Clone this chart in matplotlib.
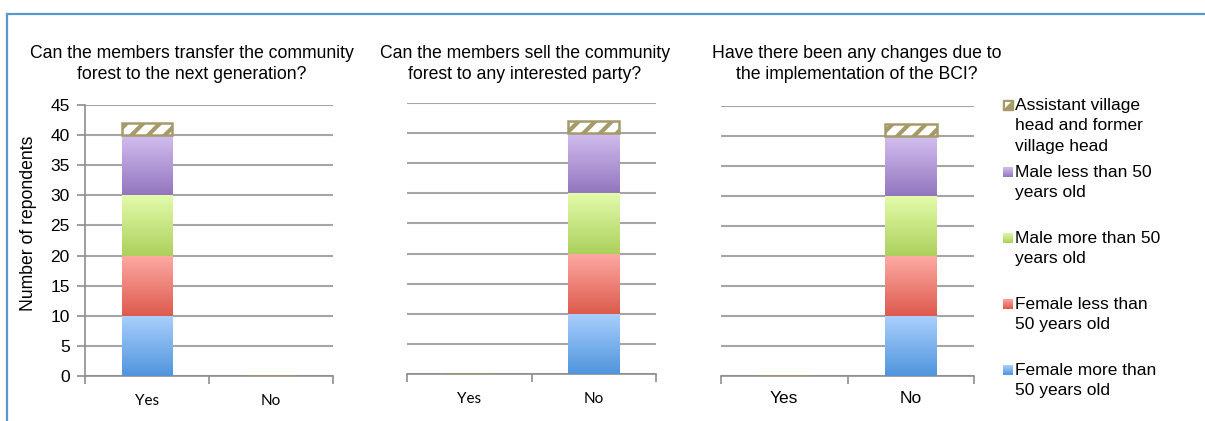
import numpy as np
import matplotlib
matplotlib.use("Agg")
import matplotlib.pyplot as plt
from matplotlib.colors import LinearSegmentedColormap
from matplotlib.patches import Rectangle

plt.rcParams["font.family"] = ["Liberation Sans", "DejaVu Sans"]
plt.rcParams["hatch.linewidth"] = 3.0

# ---- data ----
questions = [
    "Can the members transfer the community\nforest to the next generation?",
    "Can the members sell the community\nforest to any interested party?",
    "Have there been any changes due to\nthe implementation of the BCI?",
]
answers = ["Yes", "No"]
series_names = [
    "Female more than\n50 years old",
    "Female less than\n50 years old",
    "Male more than 50\nyears old",
    "Male less than 50\nyears old",
    "Assistant village\nhead and former\nvillage head",
]
# counts[question] = (Yes, No)
female_over50 = [[10, 0], [0, 10], [0, 10]]
female_under50 = [[10, 0], [0, 10], [0, 10]]
male_over50 = [[10, 0], [0, 10], [0, 10]]
male_under50 = [[10, 0], [0, 10], [0, 10]]
assistant_heads = [[2, 0], [0, 2], [0, 2]]
yticks = [0, 5, 10, 15, 20, 25, 30, 35, 40, 45]

series_values = [female_over50, female_under50, male_over50, male_under50, assistant_heads]

# gradient (top colour, bottom colour) for each solid series
gradients = [
    ("#aad0fd", "#5094dc"),
    ("#fdaaa4", "#dd5a4d"),
    ("#e3fbab", "#acd05c"),
    ("#d3bff0", "#9276be"),
]
hatch_color = "#a59a69"
grid_color = "#a5a5a5"
axis_color = "#8e8e8e"

W, H = 1205, 421
fig = plt.figure(figsize=(W / 100, H / 100), dpi=100)

# outer chart frame (top and left edges visible)
fig.add_artist(plt.Line2D([7 / W, 7 / W], [0, 1 - 14 / H], color="#5b97cf", lw=1.6))
fig.add_artist(plt.Line2D([7 / W, 1], [1 - 14 / H, 1 - 14 / H], color="#5b97cf", lw=1.6))

panels = [
    # left, right, y0 (px from top), y45 (px from top)
    (85, 333, 376, 105),
    (407, 656, 374, 103),
    (721, 974, 376, 106),
]
title_centers = [192, 525, 857]


def gradient_bar(ax, rect, top, bottom):
    cmap = LinearSegmentedColormap.from_list("g", [bottom, top])
    x0, y0 = rect.get_x(), rect.get_y()
    w, h = rect.get_width(), rect.get_height()
    grad = np.linspace(0, 1, 256).reshape(-1, 1)
    im = ax.imshow(grad, cmap=cmap, origin="lower", aspect="auto",
                   extent=(x0, x0 + w, y0, y0 + h), zorder=3, interpolation="bilinear")
    im.set_clip_path(rect)


x = np.arange(len(answers))
for qi, (l, r, yb, yt) in enumerate(panels):
    ax = fig.add_axes([l / W, 1 - yb / H, (r - l) / W, (yb - yt) / H])
    ax.set_xlim(-0.5, 1.5)
    ax.set_ylim(0, 45)
    ax.set_yticks(yticks)
    ax.grid(axis="y", color=grid_color, lw=1.5, zorder=0)
    ax.set_axisbelow(True)
    for s in ["top", "right"]:
        ax.spines[s].set_visible(False)
    ax.spines["bottom"].set_color(axis_color)
    ax.spines["bottom"].set_linewidth(1.2)
    ax.spines["bottom"].set_zorder(1)

    bottom = np.zeros(len(answers))
    for si, vals in enumerate(series_values):
        v = np.array(vals[qi], dtype=float)
        if si < 4:
            bars = ax.bar(x, v, 0.41, bottom=bottom, color="none", edgecolor="none", zorder=3)
            for rect, val in zip(bars, v):
                if val > 0:
                    gradient_bar(ax, rect, *gradients[si])
        else:
            ax.bar(x, v, 0.41, bottom=bottom, facecolor="white", edgecolor=hatch_color,
                   hatch="//", lw=1.8, zorder=3)
        bottom += v

    ax.set_xticks(x)
    ax.set_xticks([-0.5, 0.5, 1.5], minor=True)
    ax.tick_params(axis="x", which="minor", length=6, width=1.2, color=axis_color, direction="out")
    if qi < 2:
        ax.tick_params(axis="x", which="major", length=0, pad=13)
        ax.set_xticklabels(answers, fontsize=11, family=["Lato", "DejaVu Sans"])
    else:
        ax.tick_params(axis="x", which="major", length=0, pad=11)
        ax.set_xticklabels(answers, fontsize=12.5)

    if qi == 0:
        ax.spines["left"].set_color(axis_color)
        ax.spines["left"].set_linewidth(1.2)
        ax.tick_params(axis="y", length=6, width=1.2, color=axis_color, labelsize=12.5, pad=5)
    else:
        ax.spines["left"].set_visible(False)
        ax.tick_params(axis="y", length=0, labelleft=False)

    fig.text(title_centers[qi] / W, 1 - 64 / H, questions[qi], ha="center", va="center",
             fontsize=12.7, linespacing=1.3)

fig.text(29 / W, 1 - 223 / H, "Number of repondents", rotation=90, ha="center", va="center",
         fontsize=12.7)

# legend, listed top to bottom in reverse stacking order
legend_tops = [105, 172, 238, 304, 370]
for k, si in enumerate(range(len(series_names) - 1, -1, -1)):
    ty = legend_tops[k]
    px, py, ps = 1003, ty - 5, 10
    if si < 4:
        grad = np.linspace(0, 1, 32).reshape(-1, 1)
        cmap = LinearSegmentedColormap.from_list("g", [gradients[si][1], gradients[si][0]])
        lax = fig.add_axes([px / W, 1 - (py + ps) / H, ps / W, ps / H])
        lax.imshow(grad, cmap=cmap, origin="lower", aspect="auto", interpolation="bilinear")
        lax.set_axis_off()
    else:
        fig.add_artist(Rectangle((px / W, 1 - (py + ps) / H), ps / W, ps / H, transform=fig.transFigure,
                                 facecolor=hatch_color, edgecolor=hatch_color, lw=1))
        fig.add_artist(plt.Polygon([[(px + 2) / W, 1 - (py + ps - 2) / H],
                                    [(px + ps - 2) / W, 1 - (py + 2) / H],
                                    [(px + 2) / W, 1 - (py + 2) / H]],
                                   transform=fig.transFigure, facecolor="white", edgecolor="none"))
    fig.text(1015 / W, 1 - (ty - 7) / H, series_names[si], ha="left", va="top",
             fontsize=12.5, linespacing=1.45)

fig.savefig("out.png", dpi=100)
